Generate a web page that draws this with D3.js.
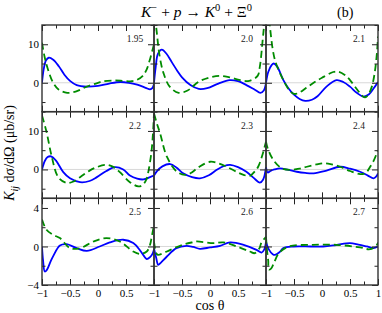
<!DOCTYPE html>
<html>
<head>
<meta charset="utf-8">
<script src="https://cdn.jsdelivr.net/npm/d3@7"></script>
<style>
  body { margin: 0; background: #fff; }
  svg { display: block; font-family: "Liberation Serif", "DejaVu Serif", serif; }
</style>
</head>
<body>
<svg></svg>
<script>
// panel energies (GeV), read left-to-right, top-to-bottom
var energies = ['1.95', '2.0', '2.1', '2.2', '2.3', '2.4', '2.5', '2.6', '2.7'];

// [cos theta, value] pairs, blue solid curves
var blue195 = [[-1,0],[-0.97,3.5],[-0.93,5.8],[-0.88,6.5],[-0.8,6.0],[-0.7,4.3],[-0.6,2.1],[-0.5,0.5],[-0.38,-0.6],[-0.2,-1.0],[0,-0.8],[0.2,-0.2],[0.4,0.2],[0.55,0],[0.7,-0.5],[0.85,-1.3],[0.93,-1.7],[0.97,-1.4],[1,-0.3]];
var blue200 = [[-1,0],[-0.97,4],[-0.93,7.5],[-0.86,8.6],[-0.78,7.6],[-0.68,5.3],[-0.58,3],[-0.5,1.4],[-0.35,-0.6],[-0.2,-1.6],[-0.05,-1.4],[0.15,-0.2],[0.35,0.7],[0.5,0.4],[0.65,-0.6],[0.8,-1.8],[0.9,-2.6],[0.96,-2.0],[1,0]];
var blue210 = [[-1,0],[-0.96,2.8],[-0.9,4.6],[-0.86,5.0],[-0.8,4.2],[-0.69,0.7],[-0.6,-1.4],[-0.5,-3.1],[-0.4,-4.2],[-0.3,-4.7],[-0.18,-4.4],[-0.08,-3.5],[0.08,-1.0],[0.26,0.7],[0.38,0.2],[0.5,-1.0],[0.62,-2.6],[0.74,-3.6],[0.84,-3.0],[0.92,-1.5],[1,0.2]];
var blue220 = [[-1,0],[-0.95,2.2],[-0.9,3.2],[-0.84,3.4],[-0.75,2.3],[-0.62,-0.7],[-0.5,-2.3],[-0.32,-3.3],[-0.15,-3.0],[-0.02,-2.0],[0.15,-0.4],[0.3,0.6],[0.45,0],[0.57,-1.6],[0.7,-2.4],[0.81,-2.6],[0.93,-2.0],[1,-1.6]];
var blue230 = [[-1,-1.6],[-0.95,-0.5],[-0.85,0.8],[-0.71,1.4],[-0.6,0.5],[-0.48,-1.0],[-0.32,-2.0],[-0.18,-2.3],[-0.02,-1.5],[0.12,-0.1],[0.25,0.9],[0.36,1.2],[0.5,0.6],[0.65,-0.6],[0.78,-2.2],[0.89,-3.4],[0.95,-2.6],[1,0.6]];
var blue240 = [[-1,0.6],[-0.97,-0.8],[-0.92,-0.4],[-0.85,0],[-0.75,0.3],[-0.6,-0.1],[-0.45,-0.6],[-0.3,-0.9],[-0.15,-1.0],[0.08,-0.3],[0.32,0.7],[0.5,0.2],[0.68,-0.6],[0.82,-1.6],[0.92,-2.3],[0.97,-1.8],[1,-1.0]];
var blue250 = [[-1,0],[-0.98,-1.5],[-0.95,-2.6],[-0.91,-2.4],[-0.85,-1.6],[-0.8,-1.0],[-0.68,0.1],[-0.56,0.24],[-0.38,-0.17],[-0.2,-0.45],[0.03,0],[0.21,0.42],[0.45,0.7],[0.63,0.35],[0.75,-0.4],[0.81,-0.9],[0.87,-1.3],[0.93,-1.1],[0.97,-0.8],[1,-0.3]];
var blue260 = [[-1,-0.2],[-0.96,-1.2],[-0.925,-1.9],[-0.88,-1.7],[-0.77,-1.04],[-0.6,-0.17],[-0.42,0.07],[-0.3,-0.05],[-0.18,-0.24],[0,-0.1],[0.18,0.07],[0.36,0.42],[0.6,0.17],[0.83,-0.35],[0.92,-0.63],[0.97,-0.3],[1,0.5]];
var blue270 = [[-1,0.5],[-0.95,-0.3],[-0.88,-0.8],[-0.84,-0.87],[-0.76,-0.6],[-0.69,-0.17],[-0.51,0],[-0.2,0],[0.02,0],[0.25,0.15],[0.5,0.35],[0.65,0.2],[0.8,0],[0.92,-0.17],[1,0]];

// green dashed curves
var green195 = [[-1,10.4],[-0.95,6.5],[-0.89,3.3],[-0.8,0],[-0.7,-1.8],[-0.55,-2.6],[-0.4,-2.3],[-0.2,-1.0],[0,0],[0.1,0.4],[0.3,0.6],[0.45,0.5],[0.6,0.4],[0.7,0.8],[0.8,1.8],[0.87,3.5],[0.93,6.2],[1,10]];
var green200 = [[-1,20],[-0.95,13],[-0.9,7],[-0.83,2.5],[-0.72,-1],[-0.56,-2.6],[-0.4,-2],[-0.2,0.3],[0,1.4],[0.18,1.8],[0.35,1.4],[0.54,0.7],[0.7,0.5],[0.85,1.8],[0.89,4.2],[0.94,11],[0.97,15.5],[1,20]];
var green210 = [[-1,25],[-0.96,20],[-0.93,14.6],[-0.84,5.9],[-0.69,0.7],[-0.58,-2],[-0.5,-2.9],[-0.4,-2.5],[-0.28,-1.3],[-0.15,0],[0,1.3],[0.2,2.8],[0.28,2.9],[0.4,2.1],[0.5,0.7],[0.62,-1.6],[0.72,-3.4],[0.77,-3.8],[0.83,-3.0],[0.89,-1.0],[0.94,2.5],[0.98,7.6],[1,12]];
var green220 = [[-1,14],[-0.92,9.8],[-0.83,3.6],[-0.71,-2.0],[-0.56,-3.5],[-0.45,-3.2],[-0.32,-2.0],[-0.15,-0.3],[-0.02,0.6],[0.15,1.2],[0.28,0.6],[0.39,-0.7],[0.57,-3.3],[0.72,-4.4],[0.8,-4.0],[0.87,-2.4],[0.9,-0.5],[0.95,4],[0.98,9],[1,14.5]];
var green230 = [[-1,14.5],[-0.95,12],[-0.89,9.3],[-0.77,3.3],[-0.59,-0.6],[-0.45,-1.4],[-0.35,-1],[-0.2,0.6],[0,2.0],[0.15,1.6],[0.3,0.7],[0.5,-0.8],[0.6,-1.4],[0.71,-1.7],[0.8,-0.5],[0.86,0.7],[0.93,3.5],[1,7.2]];
var green240 = [[-1,7.2],[-0.97,5.5],[-0.87,2.5],[-0.72,0.3],[-0.57,-0.1],[-0.4,0.2],[-0.27,0.7],[-0.1,1.3],[0.02,1.6],[0.15,1.4],[0.32,0.7],[0.5,-0.4],[0.68,-1.2],[0.78,-0.9],[0.86,0.7],[0.93,2.5],[1,5]];
var green250 = [[-1,2.8],[-0.92,1.74],[-0.8,1.2],[-0.68,0.87],[-0.5,-0.17],[-0.32,-0.17],[-0.08,0.52],[0.15,0.87],[0.39,0.52],[0.63,-0.52],[0.75,-0.77],[0.87,-0.52],[0.93,0.2],[0.96,1.04],[1,2.2]];
var green260 = [[-1,0.5],[-0.96,-0.7],[-0.93,-0.87],[-0.77,-0.52],[-0.64,-0.17],[-0.45,0.25],[-0.3,0.45],[-0.24,0.52],[0.06,0.35],[0.24,0.42],[0.48,0],[0.71,-0.52],[0.8,-0.7],[0.88,-0.2],[0.92,0.42],[1,1.0]];
var green270 = [[-1,1.0],[-0.98,-0.5],[-0.96,-1.5],[-0.95,-2.4],[-0.91,-2.3],[-0.86,-1.74],[-0.77,-0.7],[-0.59,0],[-0.17,0.17],[0.26,0.17],[0.68,-0.1],[0.86,-0.28],[0.98,0.17],[1,0.42]];

var blueSets = [blue195, blue200, blue210, blue220, blue230, blue240, blue250, blue260, blue270];
var greenSets = [green195, green200, green210, green220, green230, green240, green250, green260, green270];

// axis tick values
var xMajor = [-1, -0.5, 0, 0.5, 1];
var xMinor = [-0.75, -0.25, 0.25, 0.75];
var rowDomains = [[-7.5, 15], [-7.5, 15], [-4, 5]];
var yMajor = [[0, 10], [0, 10], [-4, 0, 4]];
var yMinor = [[-5, 5, 15], [-5, 5, 15], [-2, 2]];

var width = 382, height = 313;
var marginLeft = 42, marginTop = 25, panelW = 112, panelH = 260 / 3;
var serif = '"Liberation Serif", "DejaVu Serif", serif';

var svg = d3.select('svg')
  .attr('width', width)
  .attr('height', height);

var x = d3.scaleLinear().domain([-1, 1]).range([0, panelW]);

function fmt(d) {
  return d < 0 ? '\u2212' + Math.abs(d) : String(d);
}

function styleAxis(sel) {
  sel.select('.domain').remove();
  sel.selectAll('.tick line').attr('stroke', '#222').attr('stroke-width', 1);
  sel.attr('font-family', serif).attr('font-size', 11);
  sel.selectAll('.tick text').attr('fill', '#000');
}

energies.forEach(function(e, i) {
  var row = Math.floor(i / 3), col = i % 3;
  var y = d3.scaleLinear().domain(rowDomains[row]).range([panelH, 0]);

  var g = svg.append('g')
    .attr('transform', 'translate(' + (marginLeft + col * panelW) + ',' + (marginTop + row * panelH) + ')');

  g.append('clipPath')
    .attr('id', 'clip' + i)
    .append('rect')
    .attr('width', panelW)
    .attr('height', panelH);

  g.append('line')
    .attr('x1', 0).attr('x2', panelW)
    .attr('y1', y(0)).attr('y2', y(0))
    .attr('stroke', '#d8d8d8')
    .attr('stroke-width', 1);

  var line = d3.line()
    .x(d => x(d[0]))
    .y(d => y(d[1]))
    .curve(d3.curveCatmullRom.alpha(0.5));

  g.append('path')
    .datum(blueSets[i])
    .attr('clip-path', 'url(#clip' + i + ')')
    .attr('fill', 'none')
    .attr('stroke', '#0000ff')
    .attr('stroke-width', 1.8)
    .attr('d', line);

  g.append('path')
    .datum(greenSets[i])
    .attr('clip-path', 'url(#clip' + i + ')')
    .attr('fill', 'none')
    .attr('stroke', '#008c00')
    .attr('stroke-width', 1.8)
    .attr('stroke-dasharray', '7,4')
    .attr('d', line);

  // ticks on all four sides, pointing inward
  g.append('g')
    .attr('transform', 'translate(0,' + panelH + ')')
    .call(d3.axisBottom(x).tickValues(xMajor).tickSizeInner(-6).tickSizeOuter(0).tickPadding(4)
      .tickFormat(d => (row < 2 || (d === 1 && col < 2)) ? '' : fmt(d)))
    .call(styleAxis);
  g.append('g')
    .attr('transform', 'translate(0,' + panelH + ')')
    .call(d3.axisBottom(x).tickValues(xMinor).tickSizeInner(-3.5).tickSizeOuter(0).tickFormat(''))
    .call(styleAxis);
  g.append('g')
    .call(d3.axisTop(x).tickValues(xMajor).tickSizeInner(-6).tickSizeOuter(0).tickFormat(''))
    .call(styleAxis);
  g.append('g')
    .call(d3.axisTop(x).tickValues(xMinor).tickSizeInner(-3.5).tickSizeOuter(0).tickFormat(''))
    .call(styleAxis);

  g.append('g')
    .call(d3.axisLeft(y).tickValues(yMajor[row]).tickSizeInner(-6).tickSizeOuter(0).tickPadding(3)
      .tickFormat(d => col === 0 ? fmt(d) : ''))
    .call(styleAxis);
  g.append('g')
    .call(d3.axisLeft(y).tickValues(yMinor[row]).tickSizeInner(-3.5).tickSizeOuter(0).tickFormat(''))
    .call(styleAxis);
  g.append('g')
    .attr('transform', 'translate(' + panelW + ',0)')
    .call(d3.axisRight(y).tickValues(yMajor[row]).tickSizeInner(-6).tickSizeOuter(0).tickFormat(''))
    .call(styleAxis);
  g.append('g')
    .attr('transform', 'translate(' + panelW + ',0)')
    .call(d3.axisRight(y).tickValues(yMinor[row]).tickSizeInner(-3.5).tickSizeOuter(0).tickFormat(''))
    .call(styleAxis);

  g.append('rect')
    .attr('width', panelW)
    .attr('height', panelH)
    .attr('fill', 'none')
    .attr('stroke', '#333')
    .attr('stroke-width', 1.4);

  g.append('text')
    .attr('x', panelW - 19)
    .attr('y', 17)
    .attr('text-anchor', 'middle')
    .attr('font-size', 9.5)
    .attr('fill', '#222')
    .text(e);
});

// title
var title = svg.append('text')
  .attr('x', 141)
  .attr('y', 17)
  .attr('font-size', 15.5);
title.append('tspan').attr('font-style', 'italic').text('K');
title.append('tspan').attr('font-size', 10.5).attr('dy', -6).text('\u2212');
title.append('tspan').attr('dy', 6).text(' + ');
title.append('tspan').attr('font-style', 'italic').text('p');
title.append('tspan').text(' \u2192 ');
title.append('tspan').attr('font-style', 'italic').text('K');
title.append('tspan').attr('font-size', 10.5).attr('dy', -6).text('0');
title.append('tspan').attr('dy', 6).text(' + \u039E');
title.append('tspan').attr('font-size', 10.5).attr('dy', -6).text('0');

svg.append('text')
  .attr('x', 337)
  .attr('y', 17)
  .attr('font-size', 14)
  .text('(b)');

// axis titles
var ylab = svg.append('text')
  .attr('transform', 'translate(14,' + (marginTop + 128) + ') rotate(-90)')
  .attr('text-anchor', 'middle')
  .attr('font-size', 14);
ylab.append('tspan').attr('font-style', 'italic').text('K');
ylab.append('tspan').attr('font-style', 'italic').attr('font-size', 10).attr('dy', 4).text('ij');
ylab.append('tspan').attr('dy', -4).text(' d\u03C3/d\u03A9  (\u03BCb/sr)');

svg.append('text')
  .attr('x', marginLeft + 1.5 * panelW)
  .attr('y', 310)
  .attr('text-anchor', 'middle')
  .attr('font-size', 14)
  .text('cos \u03B8');
</script>
</body>
</html>
